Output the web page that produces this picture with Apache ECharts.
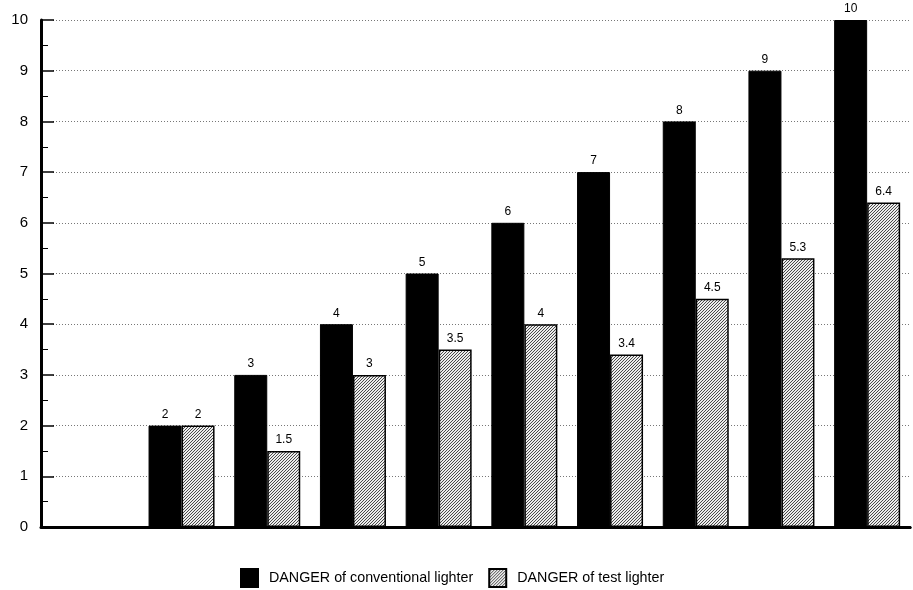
<!DOCTYPE html>
<html><head><meta charset="utf-8">
<script src="https://cdn.jsdelivr.net/npm/echarts@6/dist/echarts.min.js"></script>
<style>html,body{margin:0;padding:0;background:#fff}#c{width:913px;height:590px}</style>
</head><body><div id="c"></div>
<script>
const categories = ['0','1','2','3','4','5','6','7','8','9'];
const conventional = [null, 2, 3, 4, 5, 6, 7, 8, 9, 10];
const testLighter = [null, 2, 1.5, 3, 3.5, 4, 3.4, 4.5, 5.3, 6.4];
const seriesNames = ['DANGER of conventional lighter', 'DANGER of test lighter'];

function hatch() {
  const c = document.createElement('canvas');
  c.width = 3; c.height = 3;
  const g = c.getContext('2d');
  g.fillStyle = '#ececec'; g.fillRect(0,0,3,3);
  g.strokeStyle = '#4a4a4a'; g.lineWidth = 1;
  g.beginPath();
  g.moveTo(-1,4); g.lineTo(4,-1);
  g.moveTo(-1,1); g.lineTo(1,-1);
  g.moveTo(2,4); g.lineTo(4,2);
  g.stroke();
  return c;
}
const pat = {image: hatch(), repeat: 'repeat'};
const font = 'Liberation Sans, Arial, sans-serif';
const chart = echarts.init(document.getElementById('c'), null, {renderer:'canvas'});
chart.setOption({
  animation: false,
  backgroundColor: '#fff',
  grid: [
    {left: 53, right: 3, top: 20, bottom: 63},
    {left: 41, right: 3, top: 20, bottom: 63}
  ],
  legend: {
    left: 235, top: 563, itemWidth: 17, itemHeight: 18, itemGap: 15,
    icon: 'rect',
    textStyle: {fontFamily: font, fontSize: 14.3, color: '#000', padding: [0, 0, 0, 6]},
    data: seriesNames
  },
  xAxis: [
    {type: 'category', gridIndex: 0, data: categories,
     axisLine: {show: true, lineStyle: {color: '#000', width: 3}},
     axisTick: {show: false}, axisLabel: {show: false}},
    {type: 'value', gridIndex: 1, min: 0, max: 1,
     axisLine: {show: true, lineStyle: {color: '#000', width: 3}},
     axisTick: {show: false}, axisLabel: {show: false}, splitLine: {show: false}}
  ],
  yAxis: [
    {type: 'value', gridIndex: 0, min: 0, max: 10, interval: 1, offset: 12,
     axisLine: {show: true, lineStyle: {color: '#000', width: 3}},
     axisTick: {show: true, inside: true, length: 13, lineStyle: {color: '#000', width: 1.5}},
     minorTick: {show: true, splitNumber: 2, length: 7, lineStyle: {color: '#000', width: 1}},
     axisLabel: {fontFamily: font, fontSize: 15, color: '#000', margin: 13},
     splitLine: {show: true, lineStyle: {color: '#777', type: [1, 2], width: 1}}},
    {type: 'value', gridIndex: 1, min: 0, max: 10, show: false}
  ],
  series: [
    {name: seriesNames[0], type: 'bar', xAxisIndex: 0, yAxisIndex: 0,
     data: conventional, barWidth: 33, barGap: '0%',
     itemStyle: {color: '#000', borderColor: '#000', borderWidth: 1},
     label: {show: true, position: 'top', distance: 5, fontFamily: font, fontSize: 12, color: '#000'}},
    {name: seriesNames[1], type: 'bar', xAxisIndex: 0, yAxisIndex: 0,
     data: testLighter, barWidth: 33, barGap: '0%',
     itemStyle: {color: pat, borderColor: '#000', borderWidth: 1.5},
     label: {show: true, position: 'top', distance: 5, fontFamily: font, fontSize: 12, color: '#000'}}
  ]
});
</script></body></html>
